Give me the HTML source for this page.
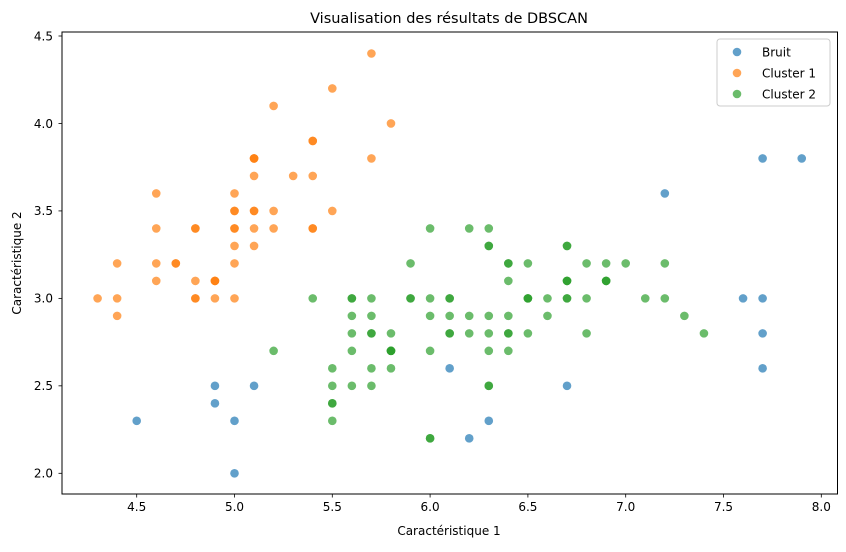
<!DOCTYPE html>
<html><head><meta charset="utf-8"><style>
body{margin:0;background:#fff;font-family:"DejaVu Sans","Liberation Sans",sans-serif}
svg text{font-family:"DejaVu Sans","Liberation Sans",sans-serif;fill:#000}
</style></head><body>
<svg id="chart" width="846" height="548" viewBox="0 0 846 548" xmlns="http://www.w3.org/2000/svg">
<rect width="846" height="548" fill="#fff"/>
<text x="449" y="23" font-size="14.5" text-anchor="middle">Visualisation des résultats de DBSCAN</text>
<g id="axes"></g>
<g id="marks"></g>
<rect x="62" y="32" width="775.5" height="462" fill="none" stroke="#000" stroke-width="1"/>
<text x="449" y="535" font-size="12" text-anchor="middle">Caractéristique 1</text>
<text transform="translate(21,263) rotate(-90)" font-size="12" text-anchor="middle">Caractéristique 2</text>
<g>
<rect x="717" y="39" width="113" height="67" rx="3" fill="#fff" fill-opacity="0.8" stroke="#ccc"/>
<circle cx="737" cy="52" r="4.3" fill="#1f77b4" fill-opacity="0.7"/>
<text x="762" y="56.5" font-size="12">Bruit</text>
<circle cx="737" cy="73" r="4.3" fill="#ff7f0e" fill-opacity="0.7"/>
<text x="762" y="77.5" font-size="12">Cluster 1</text>
<circle cx="737" cy="94" r="4.3" fill="#2ca02c" fill-opacity="0.7"/>
<text x="762" y="98.5" font-size="12">Cluster 2</text>
</g>
</svg>
<script>
const xTicks=[4.5,5.0,5.5,6.0,6.5,7.0,7.5,8.0];
const yTicks=[2.0,2.5,3.0,3.5,4.0,4.5];
const noiseX=[4.5,4.9,4.9,5.0,5.0,5.1,6.1,6.2,6.3,6.7,7.2,7.7,7.9,7.6,7.7,7.7,7.7];
const noiseY=[2.3,2.5,2.4,2.3,2.0,2.5,2.6,2.2,2.3,2.5,3.6,3.8,3.8,3.0,3.0,2.8,2.6];
const c1X=[5.1,4.9,4.7,4.6,5.0,5.4,4.6,5.0,4.4,4.9,5.4,4.8,4.8,4.3,5.8,5.7,5.4,5.1,5.7,5.1,5.4,5.1,4.6,5.1,4.8,5.0,5.0,5.2,5.2,4.7,4.8,5.4,5.2,5.5,4.9,5.0,5.5,4.9,4.4,5.1,5.0,4.4,5.0,5.1,4.8,5.1,4.6,5.3,5.0];
const c1Y=[3.5,3.0,3.2,3.1,3.6,3.9,3.4,3.4,2.9,3.1,3.7,3.4,3.0,3.0,4.0,4.4,3.9,3.5,3.8,3.8,3.4,3.7,3.6,3.3,3.4,3.0,3.4,3.5,3.4,3.2,3.1,3.4,4.1,4.2,3.1,3.2,3.5,3.1,3.0,3.4,3.5,3.2,3.5,3.8,3.0,3.8,3.2,3.7,3.3];
const c2X=[7.0,6.4,6.9,5.5,6.5,5.7,6.3,6.6,5.2,5.9,6.0,6.1,5.6,6.7,5.6,5.8,5.6,5.9,6.1,6.3,6.1,6.4,6.6,6.8,6.7,6.0,5.7,5.5,5.5,5.8,6.0,5.4,6.0,6.7,5.6,5.5,5.5,6.1,5.8,5.6,5.7,5.7,6.2,5.7,
6.3,5.8,7.1,6.3,6.5,7.3,6.5,6.4,6.8,5.7,5.8,6.4,6.5,6.0,6.9,5.6,6.3,6.7,7.2,6.2,6.1,6.4,7.2,7.4,6.4,6.3,6.3,6.4,6.0,6.9,6.7,6.9,5.8,6.8,6.7,6.7,6.3,6.5,6.2,5.9];
const c2Y=[3.2,3.2,3.1,2.3,2.8,2.8,3.3,2.9,2.7,3.0,2.2,2.9,2.9,3.1,3.0,2.7,2.5,3.2,2.8,2.5,2.8,2.9,3.0,2.8,3.0,2.9,2.6,2.4,2.4,2.7,2.7,3.0,3.4,3.1,3.0,2.5,2.6,3.0,2.6,2.7,3.0,2.9,2.9,2.8,
3.3,2.7,3.0,2.9,3.0,2.9,3.2,2.7,3.0,2.5,2.8,3.2,3.0,2.2,3.2,2.8,2.7,3.3,3.2,2.8,3.0,2.8,3.0,2.8,2.8,2.8,3.4,3.1,3.0,3.1,3.1,3.1,2.7,3.2,3.3,3.0,2.5,3.0,3.4,3.0];
const NS='http://www.w3.org/2000/svg';
function sx(v){return 136.7+(v-4.5)*(821.3-136.7)/3.5;}
function sy(v){return 473.3-(v-2.0)*(473.3-36)/2.5;}
const axes=document.getElementById('axes'),marks=document.getElementById('marks');
function mk(tag,attrs,parent){const e=document.createElementNS(NS,tag);for(const k in attrs)e.setAttribute(k,attrs[k]);parent.appendChild(e);return e;}
xTicks.forEach(t=>{
 const l=mk('line',{x1:sx(t),x2:sx(t),y1:494,y2:497.5,stroke:'#000','stroke-width':0.8},axes);
 
 
 const tx=mk('text',{x:sx(t),y:511,'font-size':12,'text-anchor':'middle'},axes);
 tx.textContent=t.toFixed(1);
 
 
});
yTicks.forEach(t=>{
 const l=mk('line',{x1:58.5,x2:62,y1:sy(t),y2:sy(t),stroke:'#000','stroke-width':0.8},axes);
 
 
 const tx=mk('text',{x:53,y:sy(t)+4.3,'font-size':12,'text-anchor':'end'},axes);
 tx.textContent=t.toFixed(1);
 
 
});
function series(xs,ys,color,name){
 xs.forEach((x,i)=>{
  const c=mk('circle',{cx:sx(x),cy:sy(ys[i]),r:4.3,fill:color,'fill-opacity':0.7},marks);
  
  
 });
}
series(noiseX,noiseY,'#1f77b4','noise-point');
series(c1X,c1Y,'#ff7f0e','cluster-1-point');
series(c2X,c2Y,'#2ca02c','cluster-2-point');
</script>
</body></html>
